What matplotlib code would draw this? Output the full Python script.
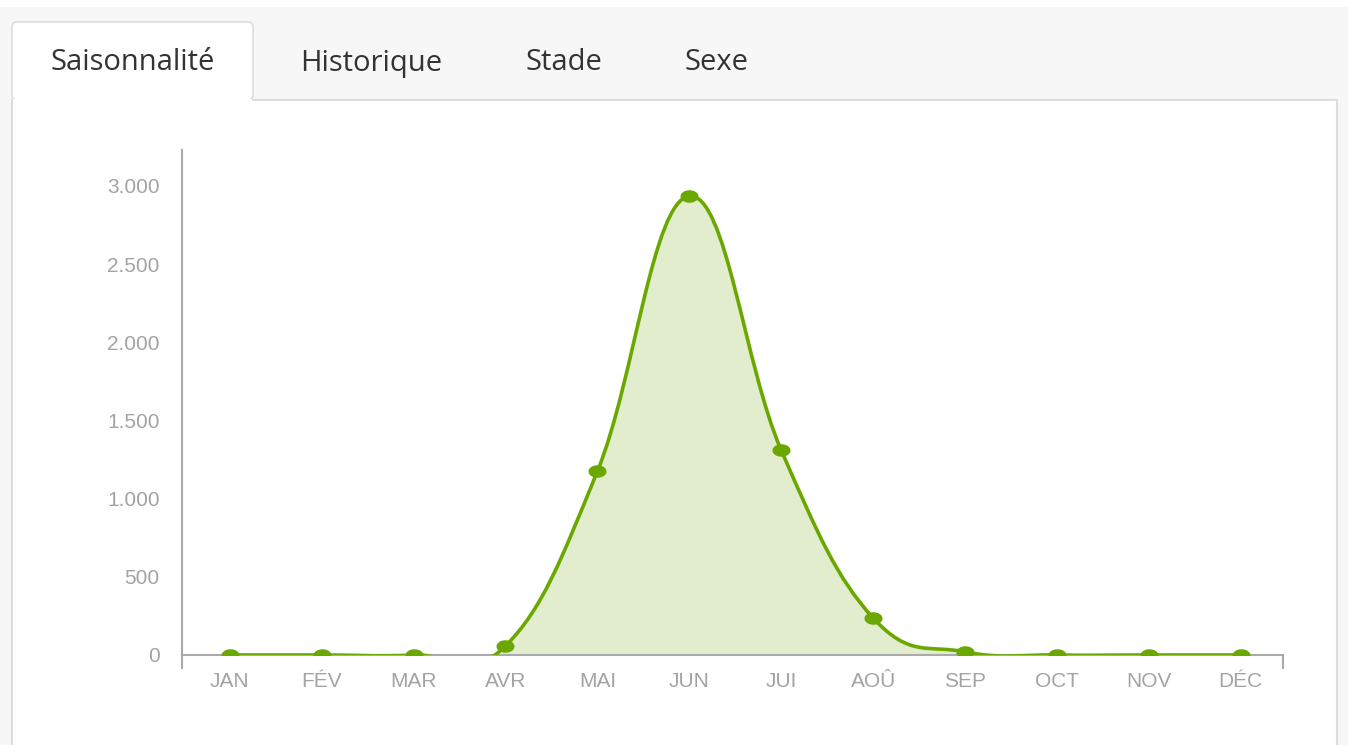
import matplotlib
matplotlib.use("Agg")
import matplotlib.pyplot as plt
from matplotlib.path import Path
from matplotlib.patches import PathPatch, Rectangle, FancyBboxPatch
import numpy as np

months = ["JAN", "FÉV", "MAR", "AVR", "MAI", "JUN", "JUI", "AOÛ", "SEP", "OCT", "NOV", "DÉC"]
counts = [0, 0, 0, 58, 1175, 2935, 1310, 237, 20, 0, 0, 0]
yticks = [0, 500, 1000, 1500, 2000, 2500, 3000]
ytick_labels = ["0", "500", "1.000", "1.500", "2.000", "2.500", "3.000"]
tabs = ["Saisonnalité", "Historique", "Stade", "Sexe"]

LINE = "#6aa800"
FILL = "#e1edcc"
LABEL = "#a3a3a3"

W, H = 1348, 745
fig = plt.figure(figsize=(W / 100, H / 100), dpi=100)
fig.patch.set_facecolor("white")

# background / tab frame in pixel coordinates
bg = fig.add_axes([0, 0, 1, 1])
bg.set_xlim(0, W)
bg.set_ylim(H, 0)
bg.axis("off")
bg.add_patch(Rectangle((0, 7), W, H - 7, facecolor="#f7f7f7", edgecolor="none", zorder=0))
bg.add_patch(Rectangle((12, 100), 1325, H, facecolor="white", edgecolor="#dddddd", lw=1.5, zorder=1))
bg.add_patch(FancyBboxPatch((12, 22), 241, 78, boxstyle="round,pad=0,rounding_size=5",
                            facecolor="white", edgecolor="#dddddd", lw=1.2, zorder=2))
bg.add_patch(Rectangle((12.8, 98.5), 239.4, 4, facecolor="white", edgecolor="none", zorder=3))
tab_x = [133, 371, 564, 717]
for t, x in zip(tabs, tab_x):
    bg.text(x, 63, t, ha="center", va="center", fontsize=21, color="#333333",
            family="Open Sans", zorder=4)

# chart
ax = fig.add_axes([182 / W, 1 - 655 / H, (1283 - 182) / W, (655 - 150) / H])
ax.set_facecolor("none")
xs = np.arange(len(months), dtype=float)
ys = np.array(counts, dtype=float)

# spline control points (smoothing 1.5, no extreme clamping)
smoothing = 1.5
n = len(xs)
lc = [None] * n
rc = [None] * n
for i in range(n):
    px, py = xs[i], ys[i]
    if 0 < i < n - 1:
        lx, ly = xs[i - 1], ys[i - 1]
        nx, ny = xs[i + 1], ys[i + 1]
        d = smoothing + 1
        lcx = (smoothing * px + lx) / d
        lcy = (smoothing * py + ly) / d
        rcx = (smoothing * px + nx) / d
        rcy = (smoothing * py + ny) / d
        corr = ((rcy - lcy) * (rcx - px)) / (rcx - lcx) + py - rcy
        lc[i] = (lcx, lcy + corr)
        rc[i] = (rcx, rcy + corr)
    else:
        lc[i] = (px, py)
        rc[i] = (px, py)

verts = [(xs[0], ys[0])]
codes = [Path.MOVETO]
for i in range(1, n):
    verts += [rc[i - 1], lc[i], (xs[i], ys[i])]
    codes += [Path.CURVE4] * 3
line_path = Path(verts, codes)

fill_verts = verts + [(xs[-1], 0), (xs[0], 0), (xs[0], ys[0])]
fill_codes = codes + [Path.LINETO, Path.LINETO, Path.CLOSEPOLY]
ax.add_patch(PathPatch(Path(fill_verts, fill_codes), facecolor=FILL, edgecolor="none", zorder=1))
ax.add_patch(PathPatch(line_path, facecolor="none", edgecolor=LINE, lw=2.6, zorder=3,
                       capstyle="round", joinstyle="round"))

# slightly wide elliptical markers (as in the reference)
th = np.linspace(0, 2 * np.pi, 40)
ell = Path(np.column_stack([1.5 * np.cos(th), np.sin(th)]), closed=True)
ax.plot(xs, ys, linestyle="none", marker=ell, color=LINE, ms=12, zorder=4)

ax.set_xlim(-0.52, 11.46)
ax.set_ylim(0, 3230)
for s in ["top", "right"]:
    ax.spines[s].set_visible(False)
for s in ["left", "bottom"]:
    ax.spines[s].set_color("#aaaaaa")
    ax.spines[s].set_linewidth(1.5)
ax.spines["bottom"].set_zorder(2)

ax.set_yticks(yticks)
ax.set_yticklabels(ytick_labels)
ax.tick_params(axis="y", length=0, pad=16, labelsize=15, labelcolor=LABEL)
ax.set_xticks(xs)
ax.set_xticklabels(months)
ax.tick_params(axis="x", length=0, pad=12.5, labelsize=15, labelcolor=LABEL)
for lab in ax.get_xticklabels() + ax.get_yticklabels():
    lab.set_family("Liberation Sans")

# end ticks on x axis
for xe in (-0.52, 11.46):
    ax.plot([xe, xe], [0, -80], color="#aaaaaa", lw=1.5, clip_on=False, zorder=5)

fig.savefig("out.png", dpi=100)
